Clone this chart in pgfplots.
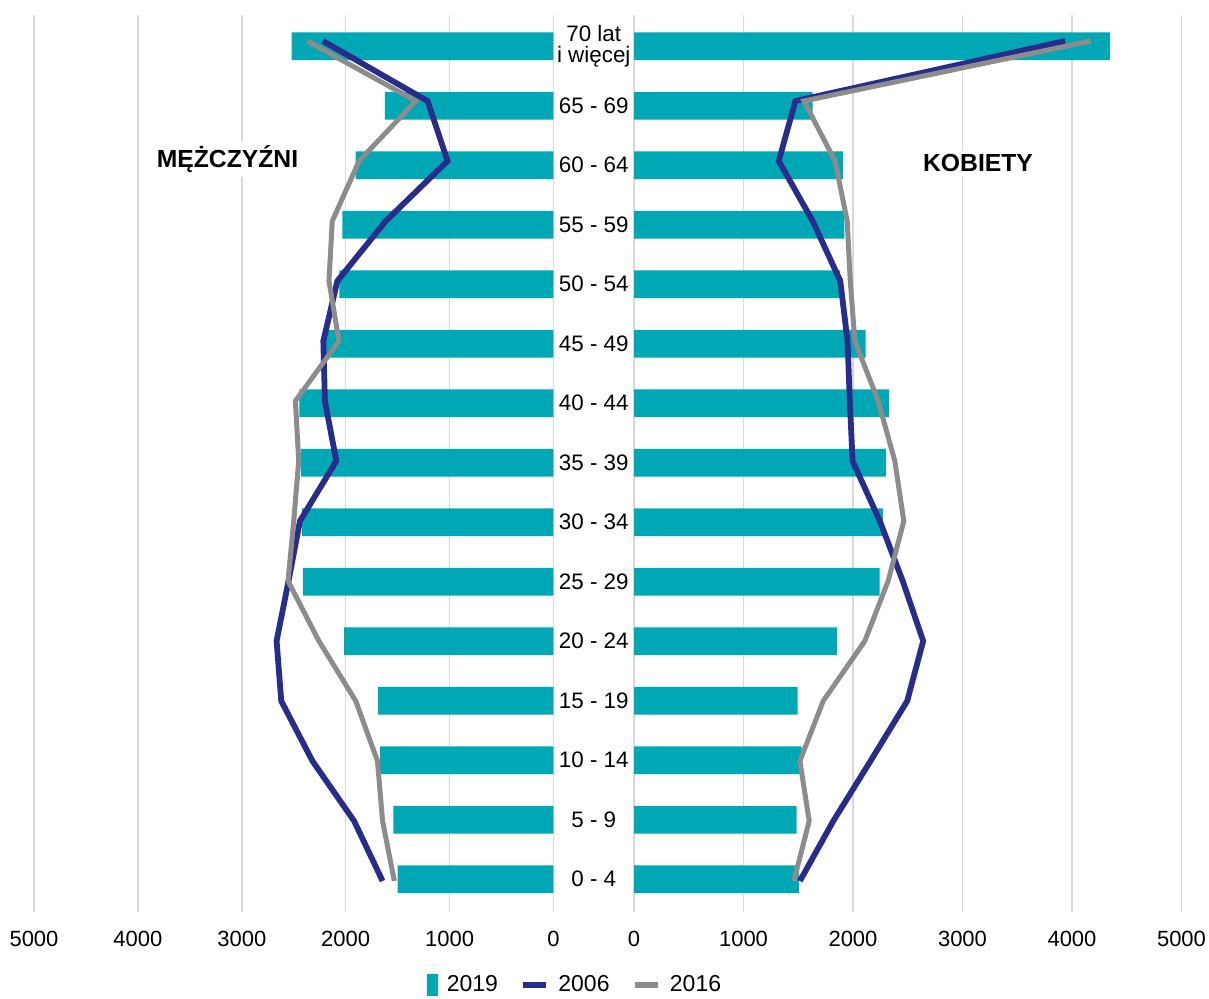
\documentclass[border=0pt]{standalone}
\usepackage{fontspec}
\setmainfont{Liberation Sans}
\usepackage{pgfplots}
\usepackage{pgfplotstable}
\pgfplotsset{compat=1.18}

\definecolor{barteal}{RGB}{0,168,181}
\definecolor{navyline}{RGB}{40,45,140}
\definecolor{grayline}{RGB}{140,140,140}
\definecolor{gridgray}{RGB}{217,217,217}

% age group index (0 = 0-4 ... 14 = 70+), men (m) and women (f) for 2019, 2006, 2016
\pgfplotstableread{
idx m19 f19 m06 f06 m16 f16
0 1500 1509 1645 1515 1532 1460
1 1540 1485 1919 1820 1645 1600
2 1668 1530 2320 2160 1694 1515
3 1690 1494 2620 2495 1903 1728
4 2015 1856 2665 2641 2258 2108
5 2410 2242 2550 2454 2555 2321
6 2420 2276 2440 2245 2500 2464
7 2430 2300 2090 1996 2452 2382
8 2445 2330 2200 1971 2484 2230
9 2200 2115 2215 1950 2065 2017
10 2060 1880 2080 1884 2161 1975
11 2032 1922 1614 1632 2129 1947
12 1904 1909 1019 1322 1871 1836
13 1624 1632 1212 1474 1325 1552
14 2521 4347 2219 3937 2370 4173
}\pyramid

\pgfplotsset{
  pyramid/.style={
    scale only axis, height=448.5pt,
    xmin=0, xmax=5000, ymin=-0.55, ymax=14.526,
    axis line style={draw=none},
    tick style={draw=none},
    xtick={0,1000,2000,3000,4000,5000},
    xticklabels={0,1000,2000,3000,4000,5000},
    xmajorgrids,
    major grid style={gridgray, line width=0.75pt},
    xticklabel style={font=\fontsize{11}{13}\selectfont, anchor=base, yshift=-17.25pt},
    clip=false,
  },
  bars19/.style={xbar, bar width=13.85pt, fill=barteal, draw=none},
  line06/.style={navyline, line width=2.9pt},
  line16/.style={grayline, line width=2.5pt},
}

\begin{document}
\begin{tikzpicture}
\path[use as bounding box] (0pt,0pt) rectangle (604.5pt,499.5pt);

% men
\begin{axis}[pyramid,
  at={(17pt,43.5pt)}, anchor=south west, width=259.75pt,
  x dir=reverse, ytick=\empty]
  \addplot[bars19] table[x=m19, y=idx] {\pyramid};
  \addplot[line06] table[x=m06, y expr=1.0084*\thisrow{idx}-0.029] {\pyramid};
  \addplot[line16] table[x=m16, y expr=1.0084*\thisrow{idx}-0.029] {\pyramid};
\end{axis}

% women
\begin{axis}[pyramid,
  at={(317pt,43.5pt)}, anchor=south west, width=273.75pt,
  ytick={0,1,...,14},
  yticklabels={0 - 4,5 - 9,10 - 14,15 - 19,20 - 24,25 - 29,30 - 34,35 - 39,40 - 44,45 - 49,50 - 54,55 - 59,60 - 64,65 - 69,{70 lat\\i więcej}},
  yticklabel style={anchor=center, xshift=-20.125pt, align=center, font=\fontsize{11.2}{10.5}\selectfont},
  legend columns=3,
  legend style={at={(-0.3786,-0.0814)}, anchor=west, draw=none, fill=none,
    inner sep=0pt, font=\fontsize{11.5}{13}\selectfont, nodes={inner sep=0pt},
    /tikz/every odd column/.append style={column sep=4.5pt},
    /tikz/every even column/.append style={column sep=11pt}},
  ]
  \addplot[bars19, legend image code/.code={\fill[barteal] (0pt,-5.3pt) rectangle (5.35pt,5.35pt);}]
    table[x=f19, y=idx] {\pyramid};
  \addlegendentry{2019}
  \addplot[line06, legend image code/.code={\draw[navyline, line width=3pt] (0pt,0pt) -- (11.7pt,0pt);}]
    table[x=f06, y expr=1.0084*\thisrow{idx}-0.029] {\pyramid};
  \addlegendentry{2006}
  \addplot[line16, legend image code/.code={\draw[grayline, line width=3pt] (0pt,0pt) -- (11.7pt,0pt);}]
    table[x=f16, y expr=1.0084*\thisrow{idx}-0.029] {\pyramid};
  \addlegendentry{2016}
\end{axis}

\node[fill=white, inner sep=2pt, anchor=base, font=\bfseries\fontsize{12.35}{14}\selectfont]
  at (113.75pt,415.5pt) {MĘŻCZYŹNI};
\node[fill=white, inner sep=2pt, anchor=base, font=\bfseries\fontsize{12.35}{14}\selectfont]
  at (489pt,413.5pt) {KOBIETY};
\end{tikzpicture}
\end{document}
